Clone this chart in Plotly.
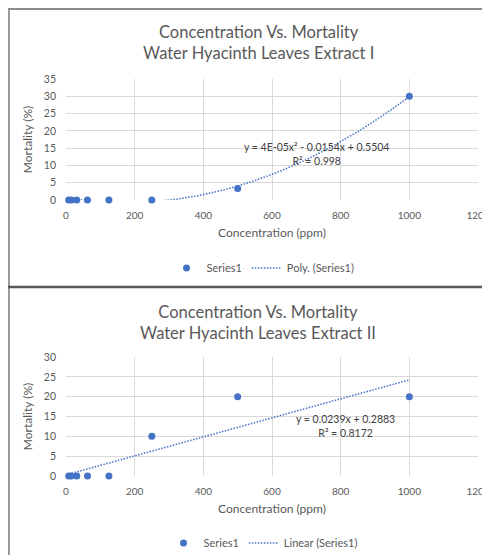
import numpy as np
import plotly.graph_objects as go

# ---- data ----
conc = [7.8125, 15.625, 31.25, 62.5, 125, 250, 500, 1000]
mort_1 = [0, 0, 0, 0, 0, 0, 3.33, 30]
mort_2 = [0, 0, 0, 0, 0, 10, 20, 20]
x_ticks = [0, 200, 400, 600, 800, 1000, 1200]
titles = ["Concentration Vs. Mortality<br>Water Hyacinth Leaves Extract I",
          "Concentration Vs. Mortality<br>Water Hyacinth Leaves Extract II"]
eq_labels = ["y = 4E-05x² - 0.0154x + 0.5504<br>R² = 0.998",
             "y = 0.0239x + 0.2883<br>R² = 0.8172"]

# page body has an 8px margin -> figure occupies 482x547 starting at (8,8)
OFF = 8
W, H = 490 - OFF, 555 - OFF
def px(x):
    return (x - OFF) / W
def py(y):
    return 1 - (y - OFF) / H

BLUE = "#4472C4"
GRID = "#D9D9D9"
TXT = "#595959"
FONT = "Lato"
DOT = "1.5px,1.5px"

# trendlines fitted from the data
xs = np.linspace(min(conc), max(conc), 300)
p1 = np.polyfit(conc, mort_1, 2)
p2 = np.polyfit(conc, mort_2, 1)

fig = go.Figure()
fig.add_trace(go.Scatter(x=conc, y=mort_1, mode="markers", name="Series1",
                         marker=dict(color=BLUE, size=7), xaxis="x", yaxis="y",
                         legend="legend", cliponaxis=False))
fig.add_trace(go.Scatter(x=xs, y=np.polyval(p1, xs), mode="lines", name="Poly. (Series1)",
                         line=dict(color=BLUE, width=1.5, dash=DOT), xaxis="x", yaxis="y",
                         legend="legend"))
fig.add_trace(go.Scatter(x=conc, y=mort_2, mode="markers", name="Series1",
                         marker=dict(color=BLUE, size=7), xaxis="x2", yaxis="y2",
                         legend="legend2", cliponaxis=False))
fig.add_trace(go.Scatter(x=xs, y=np.polyval(p2, xs), mode="lines", name="Linear (Series1)",
                         line=dict(color=BLUE, width=1.5, dash=DOT), xaxis="x2", yaxis="y2",
                         legend="legend2"))

axis_common = dict(showgrid=True, gridcolor=GRID, gridwidth=1, zeroline=False, automargin=False,
                   showline=False, ticks="",
                   title_font=dict(family=FONT, size=12, color=TXT))

xdom = [px(66), px(478)]
xcommon = dict(domain=xdom, range=[0, 1200.001], tickvals=x_ticks, ticklabelstandoff=8,
               ticklabeloverflow="allow", tickfont=dict(family=FONT, size=10, color=TXT),
               title=dict(text="Concentration (ppm)", standoff=8))
ycommon = dict(ticklabelstandoff=9, tickfont=dict(family=FONT, size=10.5, color=TXT),
               title=dict(text="Mortality (%)", standoff=8))
fig.update_layout(
    width=W, height=H, margin=dict(l=0, r=0, t=0, b=0, autoexpand=False),
    paper_bgcolor="white", plot_bgcolor="white",
    font=dict(family=FONT, color=TXT),
    xaxis=dict(anchor="y", **xcommon, **axis_common),
    yaxis=dict(domain=[py(200), py(79)], range=[0, 35], dtick=5, anchor="x", **ycommon, **axis_common),
    xaxis2=dict(anchor="y2", **xcommon, **axis_common),
    yaxis2=dict(domain=[py(476), py(357)], range=[0, 30], dtick=5, anchor="x2", **ycommon, **axis_common),
    legend=dict(orientation="h", x=px(263), xanchor="center", y=py(268), yanchor="middle",
                font=dict(family=FONT, size=11, color=TXT), bgcolor="rgba(0,0,0,0)"),
    legend2=dict(orientation="h", x=px(263), xanchor="center", y=py(543), yanchor="middle",
                 font=dict(family=FONT, size=11, color=TXT), bgcolor="rgba(0,0,0,0)"),
)

ann = []
for t, yc in zip(titles, [42, 322]):
    ann.append(dict(text=t, x=px(258), y=py(yc), xref="paper", yref="paper",
                    showarrow=False, xanchor="center", yanchor="middle",
                    font=dict(family=FONT, size=16.5, color=TXT)))
ann.append(dict(text=eq_labels[0], x=px(316), y=py(154), xref="paper", yref="paper",
                showarrow=False, xanchor="center", yanchor="middle",
                font=dict(family=FONT, size=10.5, color="#404040")))
ann.append(dict(text=eq_labels[1], x=px(345), y=py(426), xref="paper", yref="paper",
                showarrow=False, xanchor="center", yanchor="middle",
                font=dict(family=FONT, size=10.5, color="#404040")))
fig.update_layout(annotations=ann)

shapes = [
    dict(type="line", xref="paper", yref="paper", x0=px(8), x1=1, y0=py(9), y1=py(9),
         line=dict(color="#8C8C8C", width=2)),
    dict(type="line", xref="paper", yref="paper", x0=px(9), x1=px(9), y0=py(9), y1=0,
         line=dict(color="#9A9A9A", width=2)),
    dict(type="line", xref="paper", yref="paper", x0=px(8), x1=1, y0=py(287), y1=py(287),
         line=dict(color="#595959", width=2.5)),
]
fig.update_layout(shapes=shapes)

fig.write_html("out.html")
